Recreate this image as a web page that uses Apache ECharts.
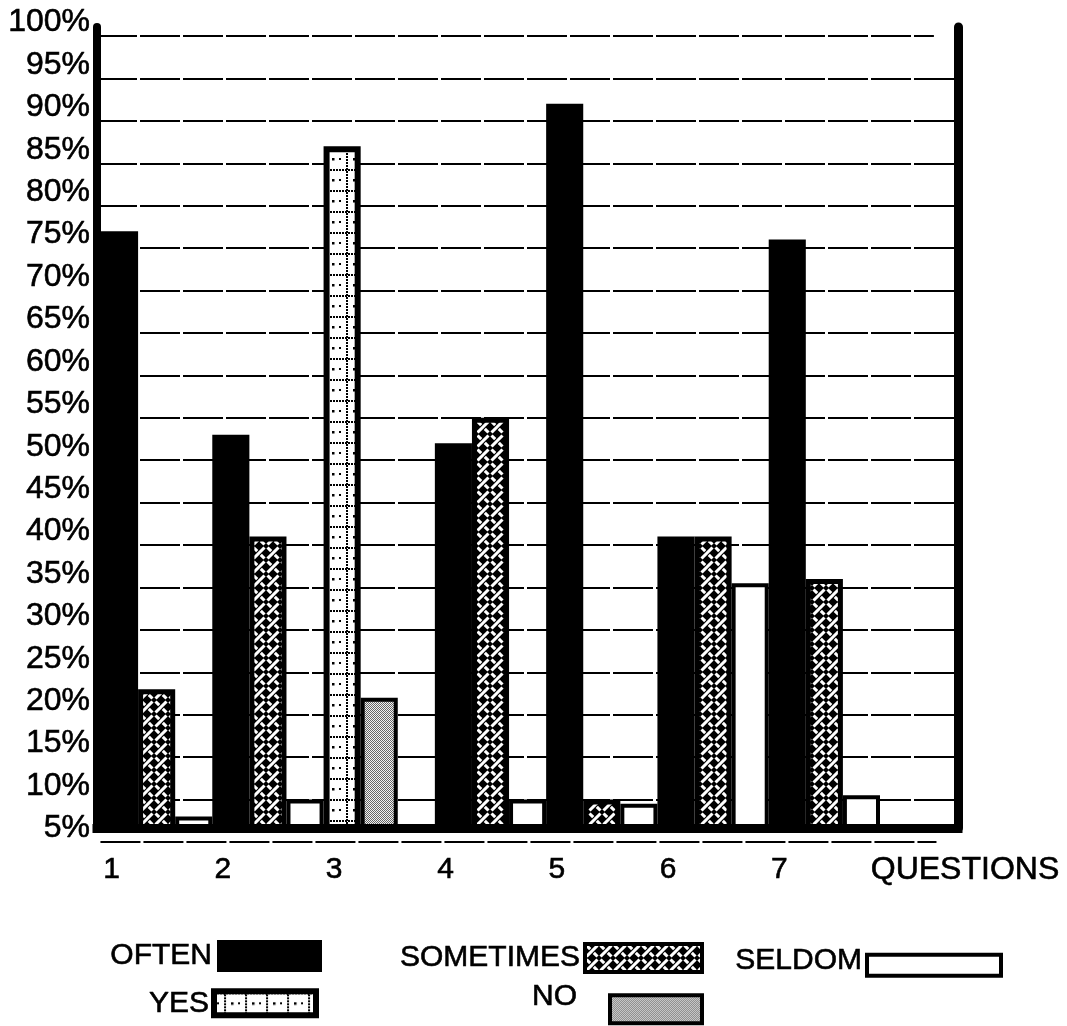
<!DOCTYPE html>
<html>
<head>
<meta charset="utf-8">
<script src="https://cdn.jsdelivr.net/npm/echarts@6/dist/echarts.min.js"></script>
<style>
  html, body { margin: 0; padding: 0; background: #fff; }
  #chart { width: 1067px; height: 1026px; }
</style>
</head>
<body>
<div id="chart"></div>
<script>
// Survey answers per question, in percent
const questions = ['1', '2', '3', '4', '5', '6', '7'];
const oftenPct     = [77, 53, null, 52, 92, 41, 76];
const sometimesPct = [23, 41, null, 55, 10, 41, 36];
const seldomPct    = [8, 10, null, 10, 9.5, 35.5, 10.5];
const yesPct       = [null, null, 87, null, null, null, null];
const noPct        = [null, null, 22, null, null, null, null];

// Percentage scale of the value axis
const yTickMin = 5;
const yTickMax = 100;
const yTickStep = 5;
// The heavy baseline sits a little above the 5% rule
const baselineValue = 6.65;

const FONT = '"Liberation Sans", Arial, Helvetica, sans-serif';
const INK = { color: '#000', fontFamily: FONT, textBorderColor: '#000', textBorderWidth: 0.6 };

// Small canvas tiles used as pattern fills
function tile(w, h, draw) {
  const c = document.createElement('canvas');
  c.width = w; c.height = h;
  draw(c.getContext('2d'), w, h);
  return c;
}
// basket weave: white interlaced diagonals on black
const weaveTile = tile(14, 14, (g) => {
  g.fillStyle = '#000'; g.fillRect(0, 0, 14, 14);
  g.strokeStyle = '#fff'; g.lineWidth = 3.1; g.lineCap = 'butt';
  g.beginPath();
  g.moveTo(1.5, 12.5); g.lineTo(12.5, 1.5);
  g.moveTo(1.5, 1.5); g.lineTo(5.2, 5.2);
  g.moveTo(8.8, 8.8); g.lineTo(12.5, 12.5);
  g.stroke();
});
// dotted rows and columns on white
const dotTile = tile(21, 21, (g) => {
  g.fillStyle = '#fff'; g.fillRect(0, 0, 21, 21);
  g.fillStyle = '#000';
  for (let x = 0; x < 21; x += 3) g.fillRect(x, 1, 2, 2);
  for (let y = 0; y < 21; y += 3) g.fillRect(10, y, 2, 2);
  g.fillRect(17, 11, 2.5, 2.5);
  g.fillRect(3, 11, 2, 2);
});
// fine grey dither
const ditherTile = tile(2, 2, (g) => {
  g.fillStyle = '#f2f2f2'; g.fillRect(0, 0, 2, 2);
  g.fillStyle = '#666666'; g.fillRect(0, 0, 1, 1); g.fillRect(1, 1, 1, 1);
});
const pattern = (img) => ({ image: img, repeat: 'repeat' });

const ruleStyle = { color: '#000', width: 2, type: [40, 3] };

const barCommon = {
  type: 'bar',
  xAxisIndex: 2,
  yAxisIndex: 3,
  clip: true,
  barGap: '0%',
  barCategoryGap: '0%',
  emphasis: { disabled: true },
  silent: true
};

function legendItem(name, right, top, w, h, border, textExtra, formatter) {
  const item = {
    data: [name],
    right: right,
    top: top,
    padding: 0,
    align: 'right',
    icon: 'rect',
    itemWidth: w,
    itemHeight: h,
    selectedMode: false,
    itemStyle: { borderWidth: border, borderColor: '#000' },
    textStyle: Object.assign({ fontSize: 30 }, INK, textExtra || {})
  };
  if (formatter) item.formatter = formatter;
  return item;
}

const chart = echarts.init(document.getElementById('chart'), null, { renderer: 'canvas' });

chart.setOption({
  animation: false,
  backgroundColor: '#fff',
  textStyle: { fontFamily: FONT },
  grid: [
    // heavy frame
    { left: 97, right: 109, top: 27, bottom: 198 },
    // percentage rules and labels
    { left: 97, right: 109, top: 36, bottom: 184 },
    // bars
    { left: 101, right: 187, top: 36, bottom: 198 }
  ],
  xAxis: [
    {
      gridIndex: 0, type: 'value', min: 0, max: 1, z: 5,
      axisLine: { show: true, onZero: false, lineStyle: { color: '#000', width: 9, cap: 'square' } },
      axisTick: { show: false }, axisLabel: { show: false }, splitLine: { show: false },
      name: 'QUESTIONS', nameLocation: 'end', nameGap: 7,
      nameTextStyle: Object.assign({ fontSize: 32, align: 'center', verticalAlign: 'top', padding: [26, 0, 0, 0] }, INK)
    },
    {
      gridIndex: 1, type: 'value', min: 0, max: 1, show: false
    },
    {
      gridIndex: 2, type: 'category', data: questions,
      axisLine: { show: false }, axisTick: { show: false },
      axisLabel: Object.assign({ fontSize: 30, margin: 27, padding: [0, 90, 0, 0] }, INK)
    }
  ],
  yAxis: [
    {
      gridIndex: 0, type: 'value', min: 0, max: 1, position: 'left', z: 5,
      axisLine: { show: true, onZero: false, lineStyle: { color: '#000', width: 8 } },
      axisTick: { show: false }, axisLabel: { show: false }, splitLine: { show: false }
    },
    {
      gridIndex: 0, type: 'value', min: 0, max: 1, position: 'right', z: 5,
      axisLine: { show: true, onZero: false, lineStyle: { color: '#000', width: 9 } },
      axisTick: { show: false }, axisLabel: { show: false }, splitLine: { show: false }
    },
    {
      gridIndex: 1, type: 'value', min: yTickMin, max: yTickMax, interval: yTickStep,
      axisLine: { show: false }, axisTick: { show: false },
      axisLabel: Object.assign({
        formatter: '{value}%', fontSize: 32, margin: 7,
        verticalAlign: 'bottom', lineHeight: 27
      }, INK),
      splitLine: { show: true, showMinLine: false, showMaxLine: false, lineStyle: ruleStyle }
    },
    {
      gridIndex: 2, type: 'value', min: baselineValue, max: yTickMax, show: false
    }
  ],
  legend: [
    legendItem('OFTEN', 745, 940, 105, 32, 0),
    legendItem('SOMETIMES', 363, 942, 117, 28, 4),
    legendItem('SELDOM', 64, 945, 134, 21, 4, { lineHeight: 10 }, (n) => n + '\n'),
    legendItem('YES', 748, 988, 102, 24, 6),
    legendItem('NO', 363, 981, 92, 28, 4, { lineHeight: 26, padding: [0, 28, 0, 0] }, (n) => n + '\n')
  ],
  series: [
    // top and bottom rules stop short of the right-hand frame
    {
      type: 'line', xAxisIndex: 1, yAxisIndex: 2, data: [], silent: true,
      markLine: {
        silent: true, symbol: ['none', 'none'], label: { show: false },
        lineStyle: ruleStyle,
        data: [
          [{ coord: [0, yTickMax] }, { coord: [0.972, yTickMax] }],
          [{ coord: [0.004, yTickMin] }, { coord: [0.975, yTickMin] }]
        ]
      }
    },
    Object.assign({}, barCommon, {
      name: 'OFTEN', stack: 'slotA', data: oftenPct,
      itemStyle: { color: '#000' }
    }),
    Object.assign({}, barCommon, {
      name: 'SOMETIMES', stack: 'slotB', data: sometimesPct,
      itemStyle: { color: pattern(weaveTile), borderColor: '#000', borderWidth: 5 }
    }),
    Object.assign({}, barCommon, {
      name: 'SELDOM', stack: 'slotC', data: seldomPct,
      itemStyle: { color: '#fff', borderColor: '#000', borderWidth: 4 }
    }),
    Object.assign({}, barCommon, {
      name: 'YES', stack: 'slotA', data: yesPct,
      itemStyle: { color: pattern(dotTile), borderColor: '#000', borderWidth: 6 }
    }),
    Object.assign({}, barCommon, {
      name: 'NO', stack: 'slotB', data: noPct,
      itemStyle: { color: pattern(ditherTile), borderColor: '#000', borderWidth: 4 }
    })
  ]
});
</script>
</body>
</html>
